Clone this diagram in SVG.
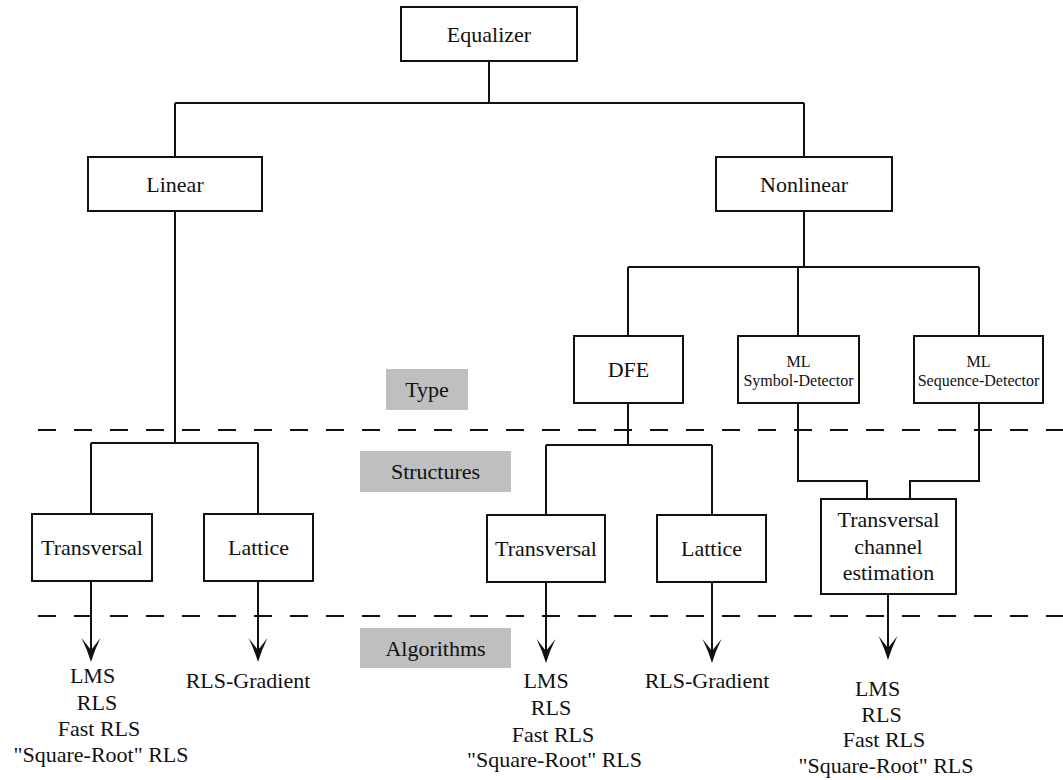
<svg xmlns="http://www.w3.org/2000/svg" width="1063" height="780" viewBox="0 0 1063 780">
  <style>
    .box { fill: #ffffff; stroke: #111111; stroke-width: 2; }
    .band { fill: #bfbfbf; stroke: none; }
    .wire { fill: none; stroke: #111111; stroke-width: 2; }
    .sep { fill: none; stroke: #111111; stroke-width: 2; stroke-dasharray: 18 18; }
    .lbl { font-family: "Liberation Serif", "Times New Roman", serif; fill: #111111; text-anchor: middle; }
    .t22 { font-size: 22px; }
    .t16 { font-size: 16px; }
  </style>
  <defs>
    <!-- swept-back arrowhead; refX sits on the notch so the shaft hides inside it -->
    <marker id="head" viewBox="-26 -11 28 22" refX="-11" refY="0" markerWidth="28" markerHeight="22" markerUnits="userSpaceOnUse" orient="auto">
      <path d="M0,0 Q-13,-4 -24,-9.5 L-12,0 L-24,9.5 Q-13,4 0,0 Z" fill="#111111"/>
    </marker>
  </defs>

  <rect width="1063" height="780" fill="#ffffff"/>

  <!-- level separators -->
  <g id="separators">
    <line class="sep" x1="38" y1="430" x2="1063" y2="430"/>
    <line class="sep" x1="38" y1="616" x2="1063" y2="616"/>
  </g>

  <!-- level labels -->
  <g id="label-type" class="lbl t22">
    <rect class="band" x="386" y="369" width="82" height="41"/>
    <text x="427" y="397">Type</text>
  </g>
  <g id="label-structures" class="lbl t22">
    <rect class="band" x="360" y="451" width="151" height="41"/>
    <text x="435.5" y="479">Structures</text>
  </g>
  <g id="label-algorithms" class="lbl t22">
    <rect class="band" x="360" y="628" width="151" height="40"/>
    <text x="435.5" y="656">Algorithms</text>
  </g>

  <!-- connectors -->
  <g id="connectors">
    <path class="wire" d="M489,61 V103 M175,103 H804 M175,103 V157 M804,103 V157"/>
    <path class="wire" d="M175,211 V443 M91,443 H258 M91,443 V514 M258,443 V514"/>
    <path class="wire" d="M804,211 V267 M628,267 H979 M628,267 V336 M798,267 V336 M979,267 V336"/>
    <path class="wire" d="M628,403 V445 M546,445 H712 M546,445 V514 M712,445 V514"/>
    <path class="wire" d="M798,403 V481 H867 V499 M979,403 V481 H910 V499"/>
    <line class="wire" x1="91" y1="581" x2="91" y2="651" marker-end="url(#head)"/>
    <line class="wire" x1="258" y1="581" x2="258" y2="651" marker-end="url(#head)"/>
    <line class="wire" x1="546" y1="582" x2="546" y2="652" marker-end="url(#head)"/>
    <line class="wire" x1="712" y1="582" x2="712" y2="652" marker-end="url(#head)"/>
    <line class="wire" x1="888" y1="594" x2="888" y2="649" marker-end="url(#head)"/>
  </g>

  <!-- nodes -->
  <g id="equalizer" class="lbl t22">
    <rect class="box" x="401" y="7" width="176" height="54"/>
    <text x="489" y="42">Equalizer</text>
  </g>
  <g id="linear" class="lbl t22">
    <rect class="box" x="88" y="157" width="174" height="54"/>
    <text x="175" y="192">Linear</text>
  </g>
  <g id="nonlinear" class="lbl t22">
    <rect class="box" x="716" y="157" width="176" height="54"/>
    <text x="804" y="192">Nonlinear</text>
  </g>
  <g id="dfe" class="lbl t22">
    <rect class="box" x="574" y="336" width="109" height="67"/>
    <text x="628.5" y="377">DFE</text>
  </g>
  <g id="ml-symbol" class="lbl t16">
    <rect class="box" x="738" y="336" width="121" height="67"/>
    <text x="798.5" y="367">ML</text>
    <text x="798.5" y="386">Symbol-Detector</text>
  </g>
  <g id="ml-sequence" class="lbl t16">
    <rect class="box" x="914" y="336" width="129" height="67"/>
    <text x="978.5" y="367">ML</text>
    <text x="978.5" y="386">Sequence-Detector</text>
  </g>
  <g id="linear-transversal" class="lbl t22">
    <rect class="box" x="32" y="514" width="120" height="67"/>
    <text x="92" y="555">Transversal</text>
  </g>
  <g id="linear-lattice" class="lbl t22">
    <rect class="box" x="204" y="514" width="109" height="67"/>
    <text x="258.5" y="555">Lattice</text>
  </g>
  <g id="dfe-transversal" class="lbl t22">
    <rect class="box" x="487" y="515" width="118" height="67"/>
    <text x="546" y="556">Transversal</text>
  </g>
  <g id="dfe-lattice" class="lbl t22">
    <rect class="box" x="657" y="515" width="109" height="67"/>
    <text x="711.5" y="556">Lattice</text>
  </g>
  <g id="channel-estimation" class="lbl t22">
    <rect class="box" x="821" y="499" width="135" height="95"/>
    <text x="888.5" y="527">Transversal</text>
    <text x="888.5" y="553.5">channel</text>
    <text x="888.5" y="580">estimation</text>
  </g>

  <!-- algorithm lists -->
  <g id="alg-linear-transversal" class="lbl t22">
    <text x="92.5" y="683">LMS</text>
    <text x="97" y="710">RLS</text>
    <text x="99" y="736">Fast RLS</text>
    <text x="101" y="762">"Square-Root" RLS</text>
  </g>
  <g id="alg-linear-lattice" class="lbl t22">
    <text x="248" y="688">RLS-Gradient</text>
  </g>
  <g id="alg-dfe-transversal" class="lbl t22">
    <text x="546" y="688">LMS</text>
    <text x="551" y="715">RLS</text>
    <text x="553" y="742">Fast RLS</text>
    <text x="554.5" y="767">"Square-Root" RLS</text>
  </g>
  <g id="alg-dfe-lattice" class="lbl t22">
    <text x="707" y="688">RLS-Gradient</text>
  </g>
  <g id="alg-channel-estimation" class="lbl t22">
    <text x="877.5" y="696">LMS</text>
    <text x="881.5" y="722">RLS</text>
    <text x="884" y="747">Fast RLS</text>
    <text x="886" y="773">"Square-Root" RLS</text>
  </g>
</svg>
